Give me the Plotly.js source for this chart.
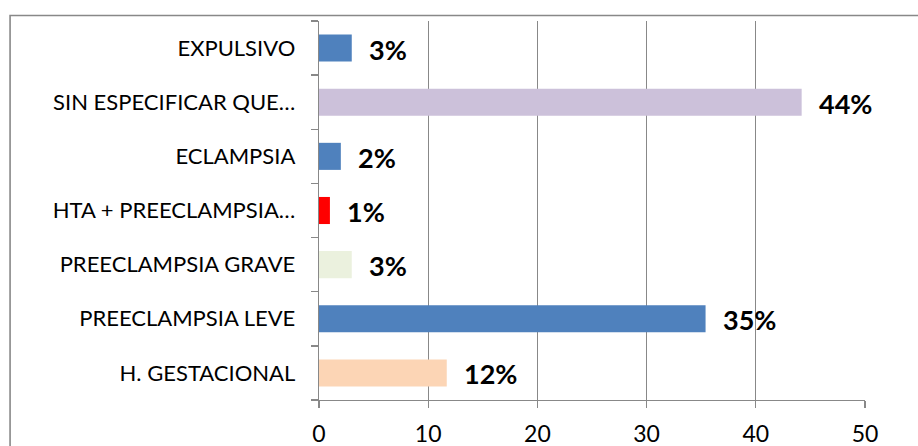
<!DOCTYPE html>
<html>
<head>
<meta charset="utf-8">
<script src="https://cdn.plot.ly/plotly-3.0.1.min.js"></script>
<style>
  html, body { margin: 0; padding: 0; background: #fff; }
  #chart { width: 918px; height: 446px; }
</style>
</head>
<body>
<div id="chart"></div>
<script>
// Categories listed bottom-to-top (as in the original chart)
const categories = ["H. GESTACIONAL", "PREECLAMPSIA LEVE", "PREECLAMPSIA GRAVE", "HTA + PREECLAMPSIA…", "ECLAMPSIA", "SIN ESPECIFICAR QUE…", "EXPULSIVO"];
const values = [11.7, 35.4, 3, 1, 2, 44.2, 3];
const valueLabels = ["12%", "35%", "3%", "1%", "2%", "44%", "3%"];
const barColors = ["#FCD5B5", "#4F81BD", "#EBF1DE", "#FF0000", "#4F81BD", "#CCC1DA", "#4F81BD"];
const xTicks = [0, 10, 20, 30, 40, 50];

const W = 918, H = 446;
const margin = { l: 318.5, r: 52.5, t: 21, b: 46 };
const pw = W - margin.l - margin.r, ph = H - margin.t - margin.b;
const px2x = p => (p - margin.l) / pw;
const py2y = p => (H - margin.b - p) / ph;

const trace = {
  type: "bar",
  orientation: "h",
  x: values,
  y: categories,
  marker: { color: barColors, line: { width: 0 } },
  width: 0.5,
  hoverinfo: "skip"
};

const annotations = values.map((v, i) => ({
  x: v, y: categories[i], xref: "x", yref: "y",
  text: valueLabels[i], showarrow: false,
  xanchor: "left", yanchor: "middle", xshift: 15, yshift: -1,
  font: { family: "Lato, 'Open Sans', sans-serif", size: 27, color: "#000", weight: "bold" }
}));

const layout = {
  width: W, height: H,
  margin: margin,
  paper_bgcolor: "#fff",
  plot_bgcolor: "#fff",
  showlegend: false,
  bargap: 0.5,
  xaxis: {
    range: [0, 50],
    tickvals: xTicks,
    ticktext: xTicks.map(String),
    showgrid: true, gridcolor: "#888", gridwidth: 1.3,
    showline: true, linecolor: "#888", linewidth: 1.3,
    ticks: "outside", ticklen: 7, tickcolor: "#888", tickwidth: 1.3,
    ticklabelstandoff: 6,
    zeroline: false,
    tickfont: { family: "Lato, 'Open Sans', sans-serif", size: 23, color: "#000" },
    fixedrange: true
  },
  yaxis: {
    type: "category",
    categoryorder: "array",
    categoryarray: categories,
    showgrid: false,
    showline: true, linecolor: "#888", linewidth: 1.3,
    ticks: "outside", ticklen: 7, tickcolor: "#888", tickwidth: 1.3,
    tickson: "boundaries",
    ticklabelstandoff: 18,
    tickfont: { family: "Lato, 'Open Sans', sans-serif", size: 22, color: "#000" },
    fixedrange: true
  },
  shapes: [{
    type: "rect", xref: "paper", yref: "paper",
    x0: px2x(9), x1: px2x(1000), y0: py2y(600), y1: py2y(15.5),
    line: { color: "#888", width: 1.6 }, fillcolor: "rgba(0,0,0,0)", layer: "below"
  }],
  annotations: annotations
};

Plotly.newPlot("chart", [trace], layout, { staticPlot: true, displayModeBar: false });
</script>
</body>
</html>
